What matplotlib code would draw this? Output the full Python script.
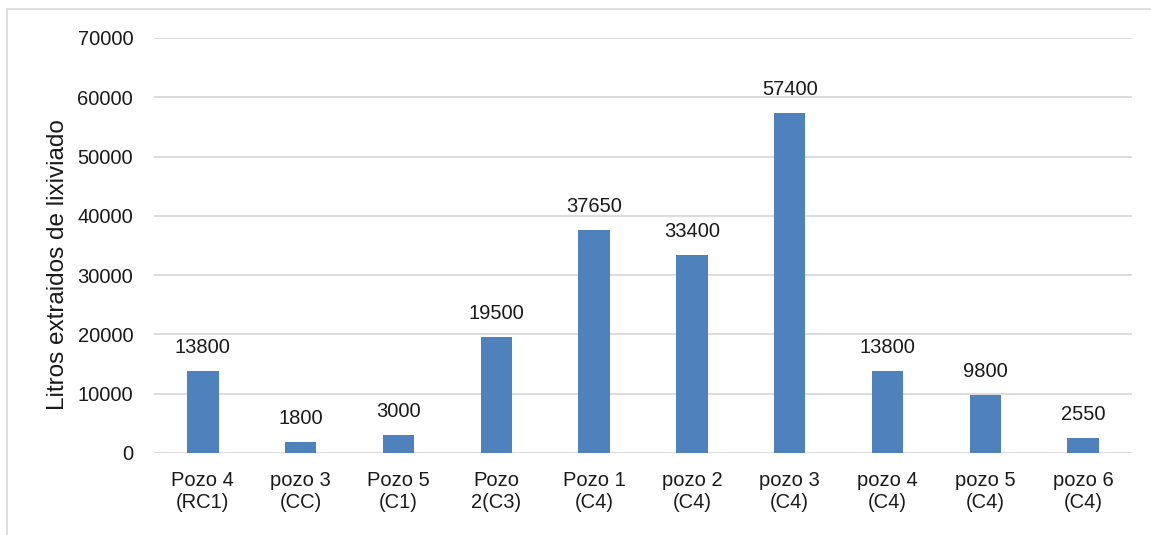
import matplotlib.pyplot as plt
from matplotlib.patches import Rectangle

# data
categorias = ['Pozo 4\n(RC1)', 'pozo 3\n(CC)', 'Pozo 5\n(C1)', 'Pozo\n2(C3)', 'Pozo 1\n(C4)',
              'pozo 2\n(C4)', 'pozo 3\n(C4)', 'pozo 4\n(C4)', 'pozo 5\n(C4)', 'pozo 6\n(C4)']
litros = [13800, 1800, 3000, 19500, 37650, 33400, 57400, 13800, 9800, 2550]
yticks = [0, 10000, 20000, 30000, 40000, 50000, 60000, 70000]

plt.rcParams['font.family'] = ['Liberation Sans', 'DejaVu Sans']
txt_color = '#1a1a1a'
fs = 14.5

fig = plt.figure(figsize=(11.51, 5.35), dpi=100)
ax = fig.add_axes([0.1338, 0.1533, 0.8497, 0.7757])

# chart frame (only top/left visible in the reference)
fig.patches.append(Rectangle((7 / 1151, -0.1), 1.2, 1 - 9 / 535 + 0.1, transform=fig.transFigure,
                             fill=False, edgecolor='#d9d9d9', linewidth=1.2))

x = range(len(categorias))
bars = ax.bar(x, litros, width=0.32, color='#4f81bd', zorder=3)

for xi, v in zip(x, litros):
    ax.annotate(str(v), (xi, v), xytext=(0, 10), textcoords='offset points',
                ha='center', va='bottom', fontsize=fs, color=txt_color)

ax.set_xlim(-0.5, len(categorias) - 0.5)
ax.set_ylim(0, 70000)
ax.set_yticks(yticks)
ax.set_yticklabels([str(t) for t in yticks])
ax.set_xticks(list(x))
ax.set_xticklabels(categorias, linespacing=1.2)
ax.tick_params(axis='y', length=0, pad=15, labelsize=fs, labelcolor=txt_color)
ax.tick_params(axis='x', length=0, pad=13, labelsize=fs, labelcolor=txt_color)

ax.grid(axis='y', color='#d9d9d9', linewidth=1.3, zorder=0)
for s in ax.spines.values():
    s.set_visible(False)

ax.set_ylabel('Litros extraidos de lixiviado', fontsize=17.5, color=txt_color)
ax.yaxis.set_label_coords(-0.087, 0.455)

fig.savefig('out.png', dpi=100)
